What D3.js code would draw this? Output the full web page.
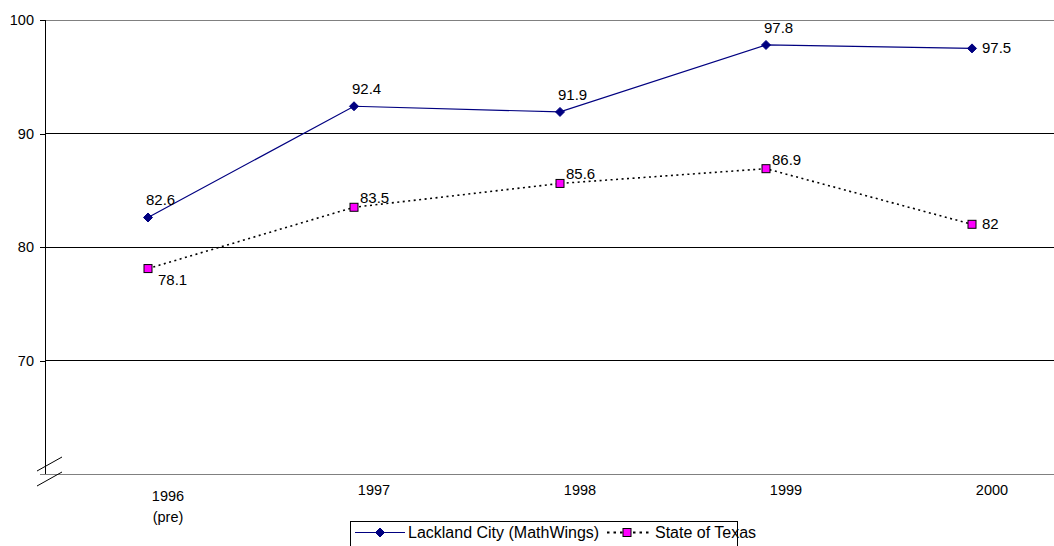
<!DOCTYPE html>
<html>
<head>
<meta charset="utf-8">
<script src="https://cdn.jsdelivr.net/npm/d3@7"></script>
<style>
  html, body { margin: 0; padding: 0; background: #fff; }
  svg { display: block; font-family: "Liberation Sans", Arial, sans-serif; }
</style>
</head>
<body>
<svg id="chart" width="1054" height="546"></svg>
<script>
// Category labels (years) and the two series
const years = ["1996\n(pre)", "1997", "1998", "1999", "2000"];
const lacklandValues = [82.6, 92.4, 91.9, 97.8, 97.5];
const texasValues = [78.1, 83.5, 85.6, 86.9, 82];
const yTickValues = [70, 80, 90, 100];
const seriesNames = ["Lackland City (MathWings)", "State of Texas"];

// Where each data label sits relative to its marker
const labelPlacement = {
  lackland: ["above", "above", "above", "above", "right"],
  texas: ["below", "above", "above", "above", "right"]
};

const svg = d3.select("#chart");
const plot = { left: 45, right: 1075, top: 20, bottom: 474 };

const x = d3.scaleBand().domain(years).range([plot.left, plot.right]).padding(0);
const cx = d => x(d) + x.bandwidth() / 2;
const y = d3.scaleLinear().domain([60, 100]).range([plot.bottom, plot.top]);

// Horizontal gridlines
svg.append("g")
  .selectAll("line")
  .data(yTickValues)
  .join("line")
  .attr("x1", plot.left).attr("x2", 1054)
  .attr("y1", d => y(d)).attr("y2", d => y(d))
  .attr("stroke", d => d === 100 ? "#808080" : "#000")
  .attr("stroke-width", 1)
  .attr("shape-rendering", "crispEdges");

// Y axis with ticks on the left
const yAxis = d3.axisLeft(y).tickValues(yTickValues).tickSize(5).tickPadding(6).tickSizeOuter(0);
const gy = svg.append("g").attr("transform", `translate(${plot.left},0)`).call(yAxis);
gy.select(".domain").remove();
gy.selectAll(".tick line").attr("stroke", "#000").attr("shape-rendering", "crispEdges");
gy.selectAll(".tick text")
  .attr("font-family", "Liberation Sans, Arial, sans-serif")
  .attr("font-size", 14.5).attr("fill", "#000");
svg.append("line")
  .attr("x1", plot.left).attr("x2", plot.left)
  .attr("y1", plot.top).attr("y2", plot.bottom)
  .attr("stroke", "#000").attr("shape-rendering", "crispEdges");

// Category axis line
svg.append("line")
  .attr("x1", 40).attr("x2", 1054)
  .attr("y1", plot.bottom).attr("y2", plot.bottom)
  .attr("stroke", "#808080").attr("shape-rendering", "crispEdges");

// Axis break marks at the origin
const breakG = svg.append("g").attr("stroke", "#000").attr("stroke-width", 1);
[-3, 12].forEach(off => {
  breakG.append("line")
    .attr("x1", plot.left - 8).attr("y1", plot.bottom + off)
    .attr("x2", plot.left + 17).attr("y2", plot.bottom + off - 14);
});

// Category labels (multi-line where needed)
const xl = svg.append("g")
  .attr("font-size", 14.5).attr("text-anchor", "middle").attr("fill", "#000");
years.forEach(yr => {
  const lines = yr.split("\n");
  const t = xl.append("text")
    .attr("x", cx(yr) + 18)
    .attr("y", plot.bottom + 21 + (lines.length - 1) * 6);
  lines.forEach((ln, i) => {
    t.append("tspan").attr("x", cx(yr) + 20).attr("dy", i === 0 ? 0 : 21).text(ln);
  });
});

// Lines
const line = vals => d3.line().x((d, i) => cx(years[i])).y(d => y(d))(vals);

svg.append("path")
  .attr("d", line(texasValues))
  .attr("fill", "none").attr("stroke", "#000")
  .attr("stroke-width", 1.6).attr("stroke-dasharray", "2,3.5");

svg.append("path")
  .attr("d", line(lacklandValues))
  .attr("fill", "none").attr("stroke", "#000080").attr("stroke-width", 1.2);

// Markers
const diamond = (g, px, py) =>
  g.append("path")
    .attr("d", `M${px},${py - 4.5}L${px + 4.5},${py}L${px},${py + 4.5}L${px - 4.5},${py}Z`)
    .attr("fill", "#000080").attr("stroke", "#000080");
const square = (g, px, py) =>
  g.append("rect")
    .attr("x", px - 4).attr("y", py - 4).attr("width", 8).attr("height", 8)
    .attr("fill", "#ff00ff").attr("stroke", "#000").attr("stroke-width", 1);

const markers = svg.append("g");
lacklandValues.forEach((v, i) => diamond(markers, cx(years[i]), y(v)));
texasValues.forEach((v, i) => square(markers, cx(years[i]), y(v)));

// Data labels
const labels = svg.append("g").attr("font-size", 15).attr("fill", "#000");
function placeLabel(v, i, where, aboveDx, aboveDy) {
  const px = cx(years[i]), py = y(v);
  const t = labels.append("text").text(String(v)).attr("text-anchor", "start");
  if (where === "right") {
    t.attr("x", px + 10).attr("y", py + 5);
  } else if (where === "below") {
    t.attr("x", px + 10).attr("y", py + 16);
  } else {
    t.attr("x", px + aboveDx).attr("y", py + aboveDy);
  }
}
lacklandValues.forEach((v, i) => placeLabel(v, i, labelPlacement.lackland[i], -2, -12));
texasValues.forEach((v, i) => placeLabel(v, i, labelPlacement.texas[i], 6, -4));

// Legend
const lg = svg.append("g").attr("transform", "translate(350,521)");
lg.append("rect")
  .attr("x", 0.5).attr("y", 0.5).attr("width", 387).attr("height", 32)
  .attr("fill", "#fff").attr("stroke", "#000").attr("stroke-width", 1);
lg.append("line").attr("x1", 5).attr("x2", 55).attr("y1", 11.5).attr("y2", 11.5)
  .attr("stroke", "#000080").attr("stroke-width", 1.2);
diamond(lg, 30, 11.5);
lg.append("text").attr("x", 58).attr("y", 17).attr("font-size", 16).text(seriesNames[0]);
lg.append("line").attr("x1", 257).attr("x2", 302).attr("y1", 11.5).attr("y2", 11.5)
  .attr("stroke", "#000").attr("stroke-width", 1.8).attr("stroke-dasharray", "2.5,4");
square(lg, 277, 11.5);
lg.append("text").attr("x", 305).attr("y", 17).attr("font-size", 16).text(seriesNames[1]);
</script>
</body>
</html>
